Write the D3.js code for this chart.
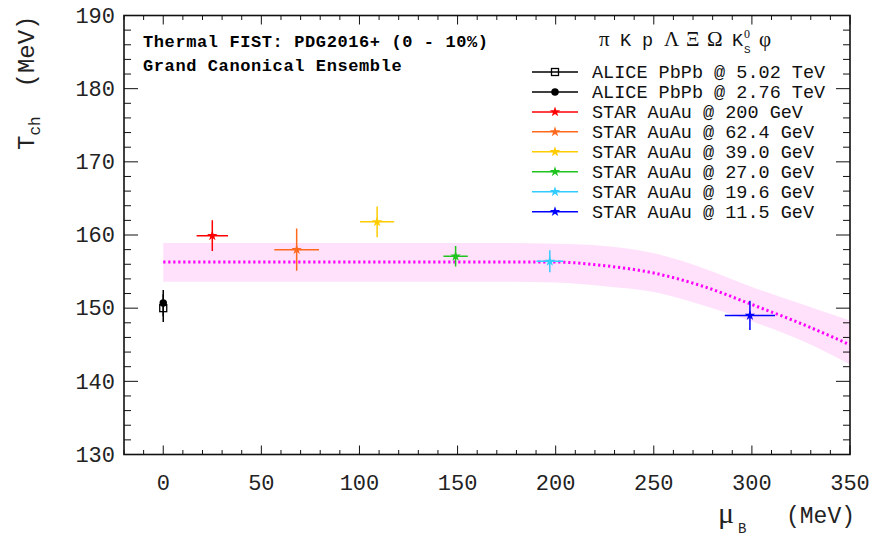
<!DOCTYPE html>
<html>
<head>
<meta charset="utf-8">
<script src="https://cdn.jsdelivr.net/npm/d3@7"></script>
<style>
  body { margin: 0; background: #fff; }
  text { font-family: "Liberation Mono", "Courier New", monospace; }
</style>
</head>
<body>
<div id="chart"></div>
<script>
// Data
const seriesNames = [
  "ALICE PbPb @ 5.02 TeV", "ALICE PbPb @ 2.76 TeV", "STAR AuAu @ 200 GeV",
  "STAR AuAu @ 62.4 GeV", "STAR AuAu @ 39.0 GeV", "STAR AuAu @ 27.0 GeV",
  "STAR AuAu @ 19.6 GeV", "STAR AuAu @ 11.5 GeV"
];
const seriesColors = ["#000000", "#000000", "#ff0000", "#ff6a1f", "#ffcc00", "#1fc41f", "#33ccff", "#0000ff"];
const seriesMarkers = ["square", "circle", "star", "star", "star", "star", "star", "star"];
const muB    = [0, 0, 25, 68, 109, 149, 197, 299];
const muBErr = [0, 0, 8, 11.4, 8.7, 6.2, 6.8, 12.8];
const tch    = [150.0, 150.7, 159.9, 158.0, 161.8, 157.1, 156.4, 149.0];
const tchErr = [1.9, 1.8, 2.1, 2.9, 2.1, 1.4, 1.5, 2.0];

// Thermal FIST curve and its uncertainty band
const curveMu    = [0, 25, 50, 75, 100, 125, 150, 175, 200, 225, 250, 275, 300, 325, 350];
const curveT     = [156.3, 156.3, 156.3, 156.3, 156.3, 156.3, 156.3, 156.3, 156.3, 155.8, 154.8, 153.0, 150.5, 147.9, 145.0];
const curveUpper = [158.9, 158.9, 158.9, 158.9, 158.9, 158.9, 158.9, 158.9, 158.8, 158.5, 157.5, 155.5, 152.9, 150.6, 148.3];
const curveLower = [153.6, 153.6, 153.6, 153.6, 153.6, 153.6, 153.6, 153.6, 153.5, 153.0, 152.2, 150.4, 148.2, 145.6, 142.3];

const xTickLabels = [0, 50, 100, 150, 200, 250, 300, 350];
const yTickLabels = [130, 140, 150, 160, 170, 180, 190];

const W = 872, H = 538;
const margin = { top: 15.5, right: 22, bottom: 83.5, left: 124 };

const svg = d3.select("#chart").append("svg")
  .attr("width", W).attr("height", H);

const x = d3.scaleLinear().domain([-20, 350]).range([margin.left, W - margin.right]);
const y = d3.scaleLinear().domain([130, 190]).range([H - margin.bottom, margin.top]);

svg.append("clipPath").attr("id", "clip")
  .append("rect")
  .attr("x", x(-20)).attr("y", y(190))
  .attr("width", x(350) - x(-20)).attr("height", y(130) - y(190));

const plot = svg.append("g").attr("clip-path", "url(#clip)");

const band = curveMu.map((m, i) => ({ m, t: curveT[i], lo: curveLower[i], hi: curveUpper[i] }));

plot.append("path")
  .datum(band)
  .attr("fill", "#ffe1fb")
  .attr("d", d3.area().x(d => x(d.m)).y0(d => y(d.lo)).y1(d => y(d.hi)).curve(d3.curveMonotoneX));

plot.append("path")
  .datum(band)
  .attr("fill", "none")
  .attr("stroke", "#ff00ff")
  .attr("stroke-width", 3)
  .attr("stroke-dasharray", "2.2,2.8")
  .attr("d", d3.line().x(d => x(d.m)).y(d => y(d.t)).curve(d3.curveMonotoneX));

// points
const points = seriesNames.map((name, i) => ({
  name, color: seriesColors[i], marker: seriesMarkers[i],
  mu: muB[i], muErr: muBErr[i], t: tch[i], tErr: tchErr[i]
}));

const starPath = d3.symbol().type(d3.symbolStar).size(34)();
const circlePath = d3.symbol().type(d3.symbolCircle).size(44)();

function drawMarker(g, d) {
  if (d.marker === "star") {
    g.append("path").attr("d", starPath).attr("fill", d.color);
  } else if (d.marker === "circle") {
    g.append("path").attr("d", circlePath).attr("fill", d.color);
  } else {
    g.append("rect").attr("x", -3.5).attr("y", -3.5).attr("width", 7).attr("height", 7)
      .attr("fill", "none").attr("stroke", d.color).attr("stroke-width", 1.3);
  }
}

const pts = plot.selectAll("g.pt")
  .data(points)
  .enter().append("g")
  .attr("class", "pt");

pts.append("line")
  .attr("x1", d => x(d.mu)).attr("x2", d => x(d.mu))
  .attr("y1", d => y(d.t - d.tErr)).attr("y2", d => y(d.t + d.tErr))
  .attr("stroke", d => d.color).attr("stroke-width", 1.5);

pts.filter(d => d.muErr > 0).append("line")
  .attr("x1", d => x(d.mu - d.muErr)).attr("x2", d => x(d.mu + d.muErr))
  .attr("y1", d => y(d.t)).attr("y2", d => y(d.t))
  .attr("stroke", d => d.color).attr("stroke-width", 1.5);

pts.each(function(d) {
  const g = d3.select(this).append("g")
    .attr("transform", `translate(${x(d.mu)},${y(d.t)})`);
  drawMarker(g, d);
});

// frame and ticks
const axisG = svg.append("g").attr("stroke", "#111").attr("stroke-width", 1);
const x0 = x(-20), x1 = x(350), y0 = y(130), y1 = y(190);

d3.range(-20, 351, 10).forEach(v => {
  const len = v % 50 === 0 ? 9 : 4.5;
  axisG.append("line").attr("x1", x(v)).attr("x2", x(v)).attr("y1", y0).attr("y2", y0 - len);
  axisG.append("line").attr("x1", x(v)).attr("x2", x(v)).attr("y1", y1).attr("y2", y1 + len);
});
d3.range(130, 191, 2).forEach(v => {
  const len = v % 10 === 0 ? 14 : 7;
  axisG.append("line").attr("x1", x0).attr("x2", x0 + len).attr("y1", y(v)).attr("y2", y(v));
  axisG.append("line").attr("x1", x1).attr("x2", x1 - len).attr("y1", y(v)).attr("y2", y(v));
});

svg.append("rect")
  .attr("x", x0).attr("y", y1).attr("width", x1 - x0).attr("height", y0 - y1)
  .attr("fill", "none").attr("stroke", "#111").attr("stroke-width", 1.6);

// tick labels
svg.selectAll("text.xt")
  .data(xTickLabels).enter().append("text")
  .attr("x", d => x(d)).attr("y", y0 + 35)
  .attr("text-anchor", "middle")
  .style("font-size", "22px")
  .attr("fill", "#222")
  .text(d => d);

svg.selectAll("text.yt")
  .data(yTickLabels).enter().append("text")
  .attr("x", x0 - 9).attr("y", d => y(d))
  .attr("text-anchor", "end")
  .attr("dy", "0.33em")
  .style("font-size", "22px")
  .attr("fill", "#222")
  .text(d => d);

// axis titles
const yTitle = svg.append("text")
  .attr("transform", `translate(34,${y1}) rotate(-90)`)
  .attr("text-anchor", "end")
  .style("font-size", "24px")
  .style("white-space", "pre")
  .attr("fill", "#222");
yTitle.append("tspan").text("T");
yTitle.append("tspan").attr("dy", 6).style("font-size", "16px").text("ch");
yTitle.append("tspan").attr("dy", -6).text("  (MeV)");

const xTitle = svg.append("text")
  .attr("x", 855).attr("y", 523)
  .attr("text-anchor", "end")
  .style("white-space", "pre")
  .attr("fill", "#222");
xTitle.append("tspan").style("font-family", "'Liberation Serif', serif").style("font-size", "30px").text("μ");
xTitle.append("tspan").attr("dx", 4).attr("dy", 10).style("font-size", "14px").text("B");
xTitle.append("tspan").attr("dx", 12).attr("dy", -10).style("font-size", "23px").text("  (MeV)");

// header text
svg.append("text")
  .attr("x", 143).attr("y", 47)
  .style("font-size", "17px").style("font-weight", "bold")
  .style("letter-spacing", "0.6px")
  .text("Thermal FIST: PDG2016+ (0 - 10%)");
svg.append("text")
  .attr("x", 143).attr("y", 71)
  .style("font-size", "17px").style("font-weight", "bold")
  .style("letter-spacing", "0.6px")
  .text("Grand Canonical Ensemble");

// particle list
const pl = svg.append("text")
  .attr("x", 599).attr("y", 46)
  .style("font-size", "18.5px")
  .style("white-space", "pre")
  .attr("fill", "#111");
const serif = "'Liberation Serif', serif";
pl.append("tspan").style("font-family", serif).style("font-size", "21px").text("π");
pl.append("tspan").attr("x", 620).text("K");
pl.append("tspan").attr("x", 642).text("p");
pl.append("tspan").attr("x", 664).style("font-family", serif).style("font-size", "21px").text("Λ");
pl.append("tspan").attr("x", 686).style("font-family", serif).style("font-size", "21px").text("Ξ");
pl.append("tspan").attr("x", 707).style("font-family", serif).style("font-size", "21px").text("Ω");
pl.append("tspan").attr("x", 732).text("K");
pl.append("tspan").attr("x", 744).attr("dy", 7).style("font-size", "11px").text("S");
pl.append("tspan").attr("x", 744).attr("dy", -15).style("font-family", serif).style("font-size", "12px").text("0");
pl.append("tspan").attr("x", 759).attr("dy", 8).style("font-family", serif).style("font-size", "21px").text("φ");

// legend
const legend = svg.append("g");
const rows = legend.selectAll("g.row")
  .data(points).enter().append("g")
  .attr("transform", (d, i) => `translate(0,${72 + i * 19.95})`);

rows.append("line")
  .attr("x1", 532).attr("x2", 578).attr("y1", 0).attr("y2", 0)
  .attr("stroke", d => d.color).attr("stroke-width", 1.5);
rows.each(function(d) {
  const g = d3.select(this).append("g").attr("transform", "translate(555,0)");
  drawMarker(g, d);
});
rows.append("text")
  .attr("x", 592).attr("dy", "0.35em")
  .style("font-size", "18.5px")
  .attr("fill", "#111")
  .text(d => d.name);
</script>
</body>
</html>
